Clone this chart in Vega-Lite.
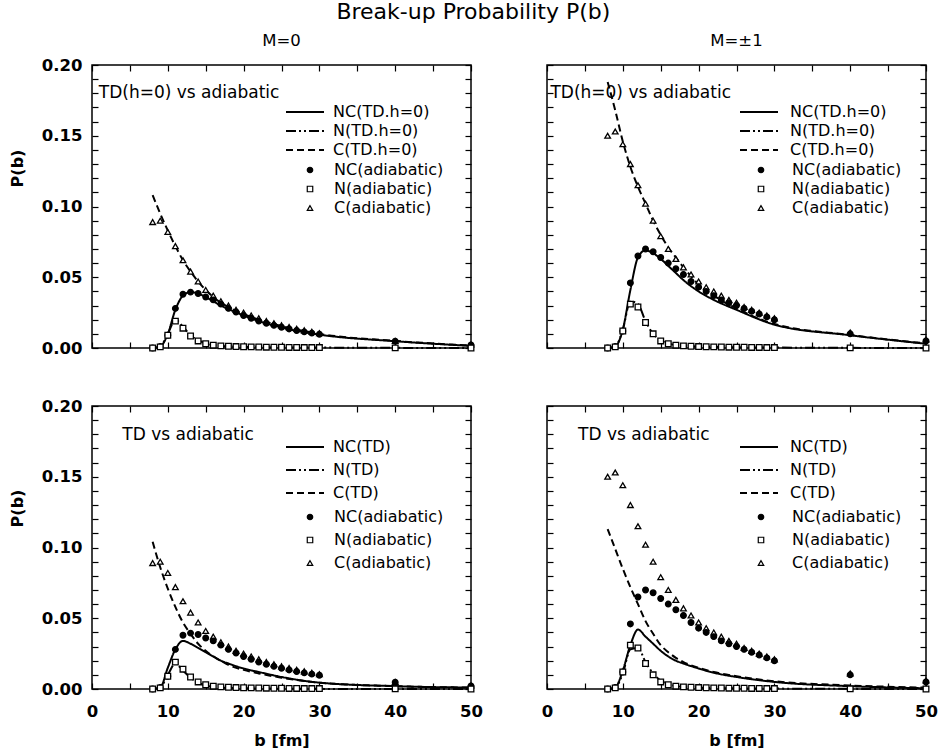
{
"$schema": "https://vega.github.io/schema/vega-lite/v6.json",
"padding": {"left": 8, "top": 0, "right": 0, "bottom": 2},
"title": {"text": "Break-up Probability P(b)", "anchor": "middle", "frame": "bounds", "fontSize": 22, "fontWeight": "normal", "font": "DejaVu Sans", "color": "black", "offset": 8},
"datasets": {
"adi0": [
{"s":"C(adiabatic)","b":8,"P":0.089},{"s":"C(adiabatic)","b":9,"P":0.090},{"s":"C(adiabatic)","b":10,"P":0.082},{"s":"C(adiabatic)","b":11,"P":0.072},{"s":"C(adiabatic)","b":12,"P":0.062},{"s":"C(adiabatic)","b":13,"P":0.054},{"s":"C(adiabatic)","b":14,"P":0.047},{"s":"C(adiabatic)","b":15,"P":0.041},{"s":"C(adiabatic)","b":16,"P":0.037},{"s":"C(adiabatic)","b":17,"P":0.033},{"s":"C(adiabatic)","b":18,"P":0.030},{"s":"C(adiabatic)","b":19,"P":0.027},{"s":"C(adiabatic)","b":20,"P":0.025},{"s":"C(adiabatic)","b":21,"P":0.023},{"s":"C(adiabatic)","b":22,"P":0.021},{"s":"C(adiabatic)","b":23,"P":0.019},{"s":"C(adiabatic)","b":24,"P":0.0175},{"s":"C(adiabatic)","b":25,"P":0.016},{"s":"C(adiabatic)","b":26,"P":0.0148},{"s":"C(adiabatic)","b":27,"P":0.0136},{"s":"C(adiabatic)","b":28,"P":0.0125},{"s":"C(adiabatic)","b":29,"P":0.0115},{"s":"C(adiabatic)","b":30,"P":0.0105},{"s":"C(adiabatic)","b":40,"P":0.005},{"s":"C(adiabatic)","b":50,"P":0.0025},
{"s":"NC(adiabatic)","b":8,"P":0.0},{"s":"NC(adiabatic)","b":9,"P":0.001},{"s":"NC(adiabatic)","b":10,"P":0.009},{"s":"NC(adiabatic)","b":11,"P":0.028},{"s":"NC(adiabatic)","b":12,"P":0.038},{"s":"NC(adiabatic)","b":13,"P":0.0395},{"s":"NC(adiabatic)","b":14,"P":0.0385},{"s":"NC(adiabatic)","b":15,"P":0.036},{"s":"NC(adiabatic)","b":16,"P":0.034},{"s":"NC(adiabatic)","b":17,"P":0.031},{"s":"NC(adiabatic)","b":18,"P":0.028},{"s":"NC(adiabatic)","b":19,"P":0.0255},{"s":"NC(adiabatic)","b":20,"P":0.023},{"s":"NC(adiabatic)","b":21,"P":0.021},{"s":"NC(adiabatic)","b":22,"P":0.019},{"s":"NC(adiabatic)","b":23,"P":0.0175},{"s":"NC(adiabatic)","b":24,"P":0.016},{"s":"NC(adiabatic)","b":25,"P":0.0147},{"s":"NC(adiabatic)","b":26,"P":0.0135},{"s":"NC(adiabatic)","b":27,"P":0.0124},{"s":"NC(adiabatic)","b":28,"P":0.0114},{"s":"NC(adiabatic)","b":29,"P":0.0105},{"s":"NC(adiabatic)","b":30,"P":0.0097},{"s":"NC(adiabatic)","b":40,"P":0.0048},{"s":"NC(adiabatic)","b":50,"P":0.0022},
{"s":"N(adiabatic)","b":8,"P":0},{"s":"N(adiabatic)","b":9,"P":0.0008},{"s":"N(adiabatic)","b":10,"P":0.009},{"s":"N(adiabatic)","b":11,"P":0.019},{"s":"N(adiabatic)","b":12,"P":0.014},{"s":"N(adiabatic)","b":13,"P":0.0085},{"s":"N(adiabatic)","b":14,"P":0.005},{"s":"N(adiabatic)","b":15,"P":0.003},{"s":"N(adiabatic)","b":16,"P":0.002},{"s":"N(adiabatic)","b":17,"P":0.0015},{"s":"N(adiabatic)","b":18,"P":0.0012},{"s":"N(adiabatic)","b":19,"P":0.001},{"s":"N(adiabatic)","b":20,"P":0.0009},{"s":"N(adiabatic)","b":21,"P":0.0008},{"s":"N(adiabatic)","b":22,"P":0.0007},{"s":"N(adiabatic)","b":23,"P":0.0006},{"s":"N(adiabatic)","b":24,"P":0.0005},{"s":"N(adiabatic)","b":25,"P":0.0005},{"s":"N(adiabatic)","b":26,"P":0.0004},{"s":"N(adiabatic)","b":27,"P":0.0004},{"s":"N(adiabatic)","b":28,"P":0.0003},{"s":"N(adiabatic)","b":29,"P":0.0003},{"s":"N(adiabatic)","b":30,"P":0.0003},{"s":"N(adiabatic)","b":40,"P":0.0001},{"s":"N(adiabatic)","b":50,"P":0}
],
"adi1": [
{"s":"C(adiabatic)","b":8,"P":0.150},{"s":"C(adiabatic)","b":9,"P":0.153},{"s":"C(adiabatic)","b":10,"P":0.144},{"s":"C(adiabatic)","b":11,"P":0.130},{"s":"C(adiabatic)","b":12,"P":0.115},{"s":"C(adiabatic)","b":13,"P":0.102},{"s":"C(adiabatic)","b":14,"P":0.090},{"s":"C(adiabatic)","b":15,"P":0.079},{"s":"C(adiabatic)","b":16,"P":0.070},{"s":"C(adiabatic)","b":17,"P":0.063},{"s":"C(adiabatic)","b":18,"P":0.057},{"s":"C(adiabatic)","b":19,"P":0.052},{"s":"C(adiabatic)","b":20,"P":0.047},{"s":"C(adiabatic)","b":21,"P":0.043},{"s":"C(adiabatic)","b":22,"P":0.040},{"s":"C(adiabatic)","b":23,"P":0.037},{"s":"C(adiabatic)","b":24,"P":0.034},{"s":"C(adiabatic)","b":25,"P":0.032},{"s":"C(adiabatic)","b":26,"P":0.029},{"s":"C(adiabatic)","b":27,"P":0.027},{"s":"C(adiabatic)","b":28,"P":0.025},{"s":"C(adiabatic)","b":29,"P":0.023},{"s":"C(adiabatic)","b":30,"P":0.021},{"s":"C(adiabatic)","b":40,"P":0.011},{"s":"C(adiabatic)","b":50,"P":0.006},
{"s":"NC(adiabatic)","b":8,"P":0},{"s":"NC(adiabatic)","b":9,"P":0.001},{"s":"NC(adiabatic)","b":10,"P":0.012},{"s":"NC(adiabatic)","b":11,"P":0.046},{"s":"NC(adiabatic)","b":12,"P":0.065},{"s":"NC(adiabatic)","b":13,"P":0.070},{"s":"NC(adiabatic)","b":14,"P":0.068},{"s":"NC(adiabatic)","b":15,"P":0.064},{"s":"NC(adiabatic)","b":16,"P":0.060},{"s":"NC(adiabatic)","b":17,"P":0.056},{"s":"NC(adiabatic)","b":18,"P":0.052},{"s":"NC(adiabatic)","b":19,"P":0.047},{"s":"NC(adiabatic)","b":20,"P":0.043},{"s":"NC(adiabatic)","b":21,"P":0.040},{"s":"NC(adiabatic)","b":22,"P":0.037},{"s":"NC(adiabatic)","b":23,"P":0.034},{"s":"NC(adiabatic)","b":24,"P":0.032},{"s":"NC(adiabatic)","b":25,"P":0.030},{"s":"NC(adiabatic)","b":26,"P":0.028},{"s":"NC(adiabatic)","b":27,"P":0.026},{"s":"NC(adiabatic)","b":28,"P":0.024},{"s":"NC(adiabatic)","b":29,"P":0.022},{"s":"NC(adiabatic)","b":30,"P":0.020},{"s":"NC(adiabatic)","b":40,"P":0.010},{"s":"NC(adiabatic)","b":50,"P":0.005},
{"s":"N(adiabatic)","b":8,"P":0},{"s":"N(adiabatic)","b":9,"P":0.0008},{"s":"N(adiabatic)","b":10,"P":0.012},{"s":"N(adiabatic)","b":11,"P":0.031},{"s":"N(adiabatic)","b":12,"P":0.029},{"s":"N(adiabatic)","b":13,"P":0.018},{"s":"N(adiabatic)","b":14,"P":0.010},{"s":"N(adiabatic)","b":15,"P":0.005},{"s":"N(adiabatic)","b":16,"P":0.003},{"s":"N(adiabatic)","b":17,"P":0.002},{"s":"N(adiabatic)","b":18,"P":0.0015},{"s":"N(adiabatic)","b":19,"P":0.0012},{"s":"N(adiabatic)","b":20,"P":0.001},{"s":"N(adiabatic)","b":21,"P":0.0009},{"s":"N(adiabatic)","b":22,"P":0.0008},{"s":"N(adiabatic)","b":23,"P":0.0007},{"s":"N(adiabatic)","b":24,"P":0.0006},{"s":"N(adiabatic)","b":25,"P":0.0005},{"s":"N(adiabatic)","b":26,"P":0.0005},{"s":"N(adiabatic)","b":27,"P":0.0004},{"s":"N(adiabatic)","b":28,"P":0.0004},{"s":"N(adiabatic)","b":29,"P":0.0003},{"s":"N(adiabatic)","b":30,"P":0.0003},{"s":"N(adiabatic)","b":40,"P":0.0001},{"s":"N(adiabatic)","b":50,"P":0}
],
"tdTL": [
{"s":"NC(TD.h=0)","b":8,"P":0},{"s":"NC(TD.h=0)","b":9,"P":0.001},{"s":"NC(TD.h=0)","b":10,"P":0.010},{"s":"NC(TD.h=0)","b":11,"P":0.027},{"s":"NC(TD.h=0)","b":12,"P":0.037},{"s":"NC(TD.h=0)","b":13,"P":0.0395},{"s":"NC(TD.h=0)","b":14,"P":0.0385},{"s":"NC(TD.h=0)","b":15,"P":0.036},{"s":"NC(TD.h=0)","b":16,"P":0.033},{"s":"NC(TD.h=0)","b":17,"P":0.030},{"s":"NC(TD.h=0)","b":18,"P":0.0275},{"s":"NC(TD.h=0)","b":20,"P":0.023},{"s":"NC(TD.h=0)","b":22,"P":0.019},{"s":"NC(TD.h=0)","b":25,"P":0.0145},{"s":"NC(TD.h=0)","b":30,"P":0.0095},{"s":"NC(TD.h=0)","b":40,"P":0.0048},{"s":"NC(TD.h=0)","b":50,"P":0.0015},
{"s":"N(TD.h=0)","b":8,"P":0},{"s":"N(TD.h=0)","b":9,"P":0.001},{"s":"N(TD.h=0)","b":10,"P":0.010},{"s":"N(TD.h=0)","b":11,"P":0.020},{"s":"N(TD.h=0)","b":12,"P":0.015},{"s":"N(TD.h=0)","b":13,"P":0.009},{"s":"N(TD.h=0)","b":14,"P":0.0055},{"s":"N(TD.h=0)","b":15,"P":0.0033},{"s":"N(TD.h=0)","b":16,"P":0.002},{"s":"N(TD.h=0)","b":17,"P":0.0015},{"s":"N(TD.h=0)","b":18,"P":0.0011},{"s":"N(TD.h=0)","b":20,"P":0.0008},{"s":"N(TD.h=0)","b":22,"P":0.0006},{"s":"N(TD.h=0)","b":25,"P":0.0004},{"s":"N(TD.h=0)","b":30,"P":0.0003},{"s":"N(TD.h=0)","b":40,"P":0.0001},{"s":"N(TD.h=0)","b":50,"P":0},
{"s":"C(TD.h=0)","b":8,"P":0.108},{"s":"C(TD.h=0)","b":9,"P":0.095},{"s":"C(TD.h=0)","b":10,"P":0.083},{"s":"C(TD.h=0)","b":11,"P":0.072},{"s":"C(TD.h=0)","b":12,"P":0.062},{"s":"C(TD.h=0)","b":13,"P":0.054},{"s":"C(TD.h=0)","b":14,"P":0.047},{"s":"C(TD.h=0)","b":15,"P":0.041},{"s":"C(TD.h=0)","b":16,"P":0.036},{"s":"C(TD.h=0)","b":17,"P":0.032},{"s":"C(TD.h=0)","b":18,"P":0.029},{"s":"C(TD.h=0)","b":20,"P":0.024},{"s":"C(TD.h=0)","b":22,"P":0.020},{"s":"C(TD.h=0)","b":25,"P":0.0155},{"s":"C(TD.h=0)","b":30,"P":0.010},{"s":"C(TD.h=0)","b":40,"P":0.005},{"s":"C(TD.h=0)","b":50,"P":0.0017}
],
"tdTR": [
{"s":"NC(TD.h=0)","b":8,"P":0},{"s":"NC(TD.h=0)","b":9,"P":0.001},{"s":"NC(TD.h=0)","b":10,"P":0.013},{"s":"NC(TD.h=0)","b":11,"P":0.041},{"s":"NC(TD.h=0)","b":12,"P":0.064},{"s":"NC(TD.h=0)","b":13,"P":0.069},{"s":"NC(TD.h=0)","b":14,"P":0.067},{"s":"NC(TD.h=0)","b":15,"P":0.063},{"s":"NC(TD.h=0)","b":16,"P":0.058},{"s":"NC(TD.h=0)","b":17,"P":0.053},{"s":"NC(TD.h=0)","b":18,"P":0.048},{"s":"NC(TD.h=0)","b":20,"P":0.040},{"s":"NC(TD.h=0)","b":22,"P":0.034},{"s":"NC(TD.h=0)","b":25,"P":0.027},{"s":"NC(TD.h=0)","b":30,"P":0.0165},{"s":"NC(TD.h=0)","b":40,"P":0.009},{"s":"NC(TD.h=0)","b":50,"P":0.003},
{"s":"N(TD.h=0)","b":8,"P":0},{"s":"N(TD.h=0)","b":9,"P":0.001},{"s":"N(TD.h=0)","b":10,"P":0.013},{"s":"N(TD.h=0)","b":11,"P":0.033},{"s":"N(TD.h=0)","b":12,"P":0.031},{"s":"N(TD.h=0)","b":13,"P":0.019},{"s":"N(TD.h=0)","b":14,"P":0.010},{"s":"N(TD.h=0)","b":15,"P":0.0055},{"s":"N(TD.h=0)","b":16,"P":0.0033},{"s":"N(TD.h=0)","b":17,"P":0.002},{"s":"N(TD.h=0)","b":18,"P":0.0015},{"s":"N(TD.h=0)","b":20,"P":0.001},{"s":"N(TD.h=0)","b":22,"P":0.0008},{"s":"N(TD.h=0)","b":25,"P":0.0005},{"s":"N(TD.h=0)","b":30,"P":0.0003},{"s":"N(TD.h=0)","b":40,"P":0.0001},{"s":"N(TD.h=0)","b":50,"P":0},
{"s":"C(TD.h=0)","b":8,"P":0.188},{"s":"C(TD.h=0)","b":9,"P":0.168},{"s":"C(TD.h=0)","b":10,"P":0.146},{"s":"C(TD.h=0)","b":11,"P":0.128},{"s":"C(TD.h=0)","b":12,"P":0.114},{"s":"C(TD.h=0)","b":13,"P":0.102},{"s":"C(TD.h=0)","b":14,"P":0.090},{"s":"C(TD.h=0)","b":15,"P":0.080},{"s":"C(TD.h=0)","b":16,"P":0.071},{"s":"C(TD.h=0)","b":17,"P":0.064},{"s":"C(TD.h=0)","b":18,"P":0.057},{"s":"C(TD.h=0)","b":20,"P":0.045},{"s":"C(TD.h=0)","b":22,"P":0.037},{"s":"C(TD.h=0)","b":25,"P":0.028},{"s":"C(TD.h=0)","b":30,"P":0.017},{"s":"C(TD.h=0)","b":40,"P":0.0092},{"s":"C(TD.h=0)","b":50,"P":0.0032}
],
"tdBL": [
{"s":"NC(TD)","b":8,"P":0},{"s":"NC(TD)","b":9,"P":0.001},{"s":"NC(TD)","b":10,"P":0.015},{"s":"NC(TD)","b":11,"P":0.028},{"s":"NC(TD)","b":12,"P":0.034},{"s":"NC(TD)","b":13,"P":0.032},{"s":"NC(TD)","b":14,"P":0.029},{"s":"NC(TD)","b":15,"P":0.026},{"s":"NC(TD)","b":16,"P":0.023},{"s":"NC(TD)","b":17,"P":0.020},{"s":"NC(TD)","b":18,"P":0.018},{"s":"NC(TD)","b":20,"P":0.0145},{"s":"NC(TD)","b":22,"P":0.012},{"s":"NC(TD)","b":25,"P":0.0085},{"s":"NC(TD)","b":30,"P":0.0045},{"s":"NC(TD)","b":40,"P":0.002},{"s":"NC(TD)","b":50,"P":0.001},
{"s":"N(TD)","b":8,"P":0},{"s":"N(TD)","b":9,"P":0.001},{"s":"N(TD)","b":10,"P":0.010},{"s":"N(TD)","b":11,"P":0.018},{"s":"N(TD)","b":12,"P":0.013},{"s":"N(TD)","b":13,"P":0.008},{"s":"N(TD)","b":14,"P":0.0045},{"s":"N(TD)","b":15,"P":0.0025},{"s":"N(TD)","b":16,"P":0.0015},{"s":"N(TD)","b":17,"P":0.001},{"s":"N(TD)","b":18,"P":0.0008},{"s":"N(TD)","b":20,"P":0.0005},{"s":"N(TD)","b":22,"P":0.0004},{"s":"N(TD)","b":25,"P":0.0002},{"s":"N(TD)","b":30,"P":0.0001},{"s":"N(TD)","b":40,"P":0},{"s":"N(TD)","b":50,"P":0},
{"s":"C(TD)","b":8,"P":0.104},{"s":"C(TD)","b":9,"P":0.086},{"s":"C(TD)","b":10,"P":0.071},{"s":"C(TD)","b":11,"P":0.058},{"s":"C(TD)","b":12,"P":0.047},{"s":"C(TD)","b":13,"P":0.039},{"s":"C(TD)","b":14,"P":0.032},{"s":"C(TD)","b":15,"P":0.027},{"s":"C(TD)","b":16,"P":0.023},{"s":"C(TD)","b":17,"P":0.020},{"s":"C(TD)","b":18,"P":0.017},{"s":"C(TD)","b":20,"P":0.0135},{"s":"C(TD)","b":22,"P":0.011},{"s":"C(TD)","b":25,"P":0.008},{"s":"C(TD)","b":30,"P":0.0045},{"s":"C(TD)","b":40,"P":0.002},{"s":"C(TD)","b":50,"P":0.001}
],
"tdBR": [
{"s":"NC(TD)","b":8,"P":0},{"s":"NC(TD)","b":9,"P":0.001},{"s":"NC(TD)","b":10,"P":0.013},{"s":"NC(TD)","b":11,"P":0.031},{"s":"NC(TD)","b":12,"P":0.042},{"s":"NC(TD)","b":13,"P":0.037},{"s":"NC(TD)","b":14,"P":0.032},{"s":"NC(TD)","b":15,"P":0.027},{"s":"NC(TD)","b":16,"P":0.023},{"s":"NC(TD)","b":17,"P":0.020},{"s":"NC(TD)","b":18,"P":0.018},{"s":"NC(TD)","b":20,"P":0.0145},{"s":"NC(TD)","b":22,"P":0.0115},{"s":"NC(TD)","b":25,"P":0.0085},{"s":"NC(TD)","b":30,"P":0.005},{"s":"NC(TD)","b":40,"P":0.002},{"s":"NC(TD)","b":50,"P":0.0005},
{"s":"N(TD)","b":8,"P":0},{"s":"N(TD)","b":9,"P":0.001},{"s":"N(TD)","b":10,"P":0.011},{"s":"N(TD)","b":11,"P":0.028},{"s":"N(TD)","b":12,"P":0.029},{"s":"N(TD)","b":13,"P":0.019},{"s":"N(TD)","b":14,"P":0.011},{"s":"N(TD)","b":15,"P":0.006},{"s":"N(TD)","b":16,"P":0.0035},{"s":"N(TD)","b":17,"P":0.0022},{"s":"N(TD)","b":18,"P":0.0015},{"s":"N(TD)","b":20,"P":0.001},{"s":"N(TD)","b":22,"P":0.0007},{"s":"N(TD)","b":25,"P":0.0005},{"s":"N(TD)","b":30,"P":0.0003},{"s":"N(TD)","b":40,"P":0.0001},{"s":"N(TD)","b":50,"P":0},
{"s":"C(TD)","b":8,"P":0.113},{"s":"C(TD)","b":9,"P":0.099},{"s":"C(TD)","b":10,"P":0.085},{"s":"C(TD)","b":11,"P":0.072},{"s":"C(TD)","b":12,"P":0.060},{"s":"C(TD)","b":13,"P":0.048},{"s":"C(TD)","b":14,"P":0.039},{"s":"C(TD)","b":15,"P":0.031},{"s":"C(TD)","b":16,"P":0.026},{"s":"C(TD)","b":17,"P":0.022},{"s":"C(TD)","b":18,"P":0.019},{"s":"C(TD)","b":20,"P":0.015},{"s":"C(TD)","b":22,"P":0.012},{"s":"C(TD)","b":25,"P":0.009},{"s":"C(TD)","b":30,"P":0.0055},{"s":"C(TD)","b":40,"P":0.0025},{"s":"C(TD)","b":50,"P":0.001}
]
},
"config": {
"view": {"stroke": "black", "strokeWidth": 1.5},
"font": "DejaVu Sans",
"axis": {"domain": false, "grid": false, "minExtent": 0, "tickSize": -6, "tickColor": "black", "tickWidth": 1.2, "labelFont": "DejaVu Sans", "labelFontWeight": "bold", "labelFontSize": 16.5, "labelColor": "black", "labelFlush": false, "labelOverlap": false, "titleFont": "DejaVu Sans", "titleFontWeight": "bold", "titleFontSize": 16, "titleColor": "black"},
"axisLeft": {"labelPadding": 16, "titlePadding": 16},
"axisBottom": {"labelPadding": 20, "titlePadding": 13},
"legend": {"labelFont": "DejaVu Sans", "labelFontSize": 16, "labelColor": "black", "padding": 0},
"title": {"font": "DejaVu Sans", "fontSize": 16.5, "fontWeight": "normal", "color": "black", "anchor": "middle", "offset": 15}
},
"columns": 2,
"spacing": {"row": 58, "column": 76},
"bounds": "flush",
"resolve": {"scale": {"strokeDash": "independent", "shape": "independent", "fill": "independent", "stroke": "independent"}, "legend": {"strokeDash": "independent", "shape": "independent", "fill": "independent", "stroke": "independent"}},
"concat": [
 {"width": 379, "height": 283, "title": {"text": "M=0", "frame": "group", "anchor": "middle", "offset": 8},
  "layer": [
   {"data": {"name": "tdTL"},
    "mark": {"type": "line", "color": "black", "strokeWidth": 2, "interpolate": "monotone"},
    "encoding": {
     "x": {"field": "b", "type": "quantitative", "scale": {"domain": [0, 50], "nice": false}, "axis": {"orient": "bottom", "values": [0,5,10,15,20,25,30,35,40,45,50], "labels": false, "labelPadding": 0, "title": null}},
     "y": {"field": "P", "type": "quantitative", "scale": {"domain": [0, 0.2], "nice": false}, "axis": {"orient": "left", "values": [0,0.01,0.02,0.03,0.04,0.05,0.06,0.07,0.08,0.09,0.1,0.11,0.12,0.13,0.14,0.15,0.16,0.17,0.18,0.19,0.2], "labelExpr": "round(datum.value * 100) % 5 === 0 ? format(datum.value, '.2f') : ''", "title": "P(b)", "titleY": 103}},
     "strokeDash": {"field": "s", "type": "nominal", "scale": {"domain": ["NC(TD.h=0)", "N(TD.h=0)", "C(TD.h=0)"], "range": [[1, 0], [10, 3, 2, 3, 2, 3], [7, 4]]}, "legend": {"title": null, "orient": "none", "legendX": 205, "legendY": 39, "symbolType": "M-4.75,0H4.75", "symbolSize": 64, "symbolStrokeColor": "black", "symbolStrokeWidth": 2, "labelOffset": 20, "rowPadding": 3}}
    }},
   {"data": {"name": "adi0"},
    "mark": {"type": "point", "filled": true, "strokeWidth": 1.3, "opacity": 1, "size": 32},
    "encoding": {
     "x": {"field": "b", "type": "quantitative", "axis": null},
     "y": {"field": "P", "type": "quantitative", "axis": null},
     "shape": {"field": "s", "type": "nominal", "scale": {"domain": ["NC(adiabatic)", "N(adiabatic)", "C(adiabatic)"], "range": ["circle", "square", "triangle-up"]}, "legend": {"title": null, "orient": "none", "legendX": 210, "legendY": 97, "symbolSize": 30, "symbolStrokeWidth": 1.2, "labelOffset": 16, "rowPadding": 3}},
     "fill": {"field": "s", "type": "nominal", "scale": {"domain": ["NC(adiabatic)", "N(adiabatic)", "C(adiabatic)"], "range": ["black", "white", "white"]}, "legend": {"title": null, "orient": "none", "legendX": 210, "legendY": 97, "symbolSize": 30, "symbolStrokeWidth": 1.2, "labelOffset": 16, "rowPadding": 3}},
     "stroke": {"field": "s", "type": "nominal", "scale": {"domain": ["NC(adiabatic)", "N(adiabatic)", "C(adiabatic)"], "range": ["black", "black", "black"]}, "legend": {"title": null, "orient": "none", "legendX": 210, "legendY": 97, "symbolSize": 30, "symbolStrokeWidth": 1.2, "labelOffset": 16, "rowPadding": 3}}
    }},
   {"data": {"values": [{}]},
    "mark": {"type": "text", "text": "TD(h=0) vs adiabatic", "align": "left", "baseline": "middle", "font": "DejaVu Sans", "fontSize": 17, "color": "black"},
    "encoding": {
     "x": {"datum": 0.9, "type": "quantitative", "axis": {"orient": "top", "values": [0,5,10,15,20,25,30,35,40,45,50], "labels": false, "labelPadding": 0, "title": null}},
     "y": {"datum": 0.18, "type": "quantitative", "axis": {"orient": "right", "values": [0,0.01,0.02,0.03,0.04,0.05,0.06,0.07,0.08,0.09,0.1,0.11,0.12,0.13,0.14,0.15,0.16,0.17,0.18,0.19,0.2], "labels": false, "labelPadding": 0, "title": null}}
    }}
  ],
  "resolve": {"axis": {"x": "independent", "y": "independent"}}
 },
 {"width": 379, "height": 283, "title": {"text": "M=±1", "frame": "group", "anchor": "middle", "offset": 15},
  "layer": [
   {"data": {"name": "tdTR"},
    "mark": {"type": "line", "color": "black", "strokeWidth": 2, "interpolate": "monotone"},
    "encoding": {
     "x": {"field": "b", "type": "quantitative", "scale": {"domain": [0, 50], "nice": false}, "axis": {"orient": "bottom", "values": [0,5,10,15,20,25,30,35,40,45,50], "labels": false, "labelPadding": 0, "title": null}},
     "y": {"field": "P", "type": "quantitative", "scale": {"domain": [0, 0.2], "nice": false}, "axis": {"orient": "left", "values": [0,0.01,0.02,0.03,0.04,0.05,0.06,0.07,0.08,0.09,0.1,0.11,0.12,0.13,0.14,0.15,0.16,0.17,0.18,0.19,0.2], "labels": false, "labelPadding": 0, "title": null}},
     "strokeDash": {"field": "s", "type": "nominal", "scale": {"domain": ["NC(TD.h=0)", "N(TD.h=0)", "C(TD.h=0)"], "range": [[1, 0], [10, 3, 2, 3, 2, 3], [7, 4]]}, "legend": {"title": null, "orient": "none", "legendX": 204, "legendY": 39, "symbolType": "M-4.75,0H4.75", "symbolSize": 64, "symbolStrokeColor": "black", "symbolStrokeWidth": 2, "labelOffset": 23, "rowPadding": 3}}
    }},
   {"data": {"name": "adi1"},
    "mark": {"type": "point", "filled": true, "strokeWidth": 1.3, "opacity": 1, "size": 32},
    "encoding": {
     "x": {"field": "b", "type": "quantitative", "axis": null},
     "y": {"field": "P", "type": "quantitative", "axis": null},
     "shape": {"field": "s", "type": "nominal", "scale": {"domain": ["NC(adiabatic)", "N(adiabatic)", "C(adiabatic)"], "range": ["circle", "square", "triangle-up"]}, "legend": {"title": null, "orient": "none", "legendX": 206, "legendY": 97, "symbolSize": 30, "symbolStrokeWidth": 1.2, "labelOffset": 23, "rowPadding": 3}},
     "fill": {"field": "s", "type": "nominal", "scale": {"domain": ["NC(adiabatic)", "N(adiabatic)", "C(adiabatic)"], "range": ["black", "white", "white"]}, "legend": {"title": null, "orient": "none", "legendX": 206, "legendY": 97, "symbolSize": 30, "symbolStrokeWidth": 1.2, "labelOffset": 23, "rowPadding": 3}},
     "stroke": {"field": "s", "type": "nominal", "scale": {"domain": ["NC(adiabatic)", "N(adiabatic)", "C(adiabatic)"], "range": ["black", "black", "black"]}, "legend": {"title": null, "orient": "none", "legendX": 206, "legendY": 97, "symbolSize": 30, "symbolStrokeWidth": 1.2, "labelOffset": 23, "rowPadding": 3}}
    }},
   {"data": {"values": [{}]},
    "mark": {"type": "text", "text": "TD(h=0) vs adiabatic", "align": "left", "baseline": "middle", "font": "DejaVu Sans", "fontSize": 17, "color": "black"},
    "encoding": {
     "x": {"datum": 0.45, "type": "quantitative", "axis": {"orient": "top", "values": [0,5,10,15,20,25,30,35,40,45,50], "labels": false, "labelPadding": 0, "title": null}},
     "y": {"datum": 0.18, "type": "quantitative", "axis": {"orient": "right", "values": [0,0.01,0.02,0.03,0.04,0.05,0.06,0.07,0.08,0.09,0.1,0.11,0.12,0.13,0.14,0.15,0.16,0.17,0.18,0.19,0.2], "labels": false, "labelPadding": 0, "title": null}}
    }}
  ],
  "resolve": {"axis": {"x": "independent", "y": "independent"}}
 },
 {"width": 379, "height": 283,
  "layer": [
   {"data": {"name": "tdBL"},
    "mark": {"type": "line", "color": "black", "strokeWidth": 2, "interpolate": "monotone"},
    "encoding": {
     "x": {"field": "b", "type": "quantitative", "scale": {"domain": [0, 50], "nice": false}, "axis": {"orient": "bottom", "values": [0,5,10,15,20,25,30,35,40,45,50], "labelExpr": "datum.value % 10 === 0 ? datum.label : ''", "title": "b [fm]"}},
     "y": {"field": "P", "type": "quantitative", "scale": {"domain": [0, 0.2], "nice": false}, "axis": {"orient": "left", "values": [0,0.01,0.02,0.03,0.04,0.05,0.06,0.07,0.08,0.09,0.1,0.11,0.12,0.13,0.14,0.15,0.16,0.17,0.18,0.19,0.2], "labelExpr": "round(datum.value * 100) % 5 === 0 ? format(datum.value, '.2f') : ''", "title": "P(b)", "titleY": 102}},
     "strokeDash": {"field": "s", "type": "nominal", "scale": {"domain": ["NC(TD)", "N(TD)", "C(TD)"], "range": [[1, 0], [10, 3, 2, 3, 2, 3], [7, 4]]}, "legend": {"title": null, "orient": "none", "legendX": 205, "legendY": 33, "symbolType": "M-4.75,0H4.75", "symbolSize": 64, "symbolStrokeColor": "black", "symbolStrokeWidth": 2, "labelOffset": 20, "rowPadding": 7}}
    }},
   {"data": {"name": "adi0"},
    "mark": {"type": "point", "filled": true, "strokeWidth": 1.3, "opacity": 1, "size": 32},
    "encoding": {
     "x": {"field": "b", "type": "quantitative", "axis": null},
     "y": {"field": "P", "type": "quantitative", "axis": null},
     "shape": {"field": "s", "type": "nominal", "scale": {"domain": ["NC(adiabatic)", "N(adiabatic)", "C(adiabatic)"], "range": ["circle", "square", "triangle-up"]}, "legend": {"title": null, "orient": "none", "legendX": 210, "legendY": 103, "symbolSize": 30, "symbolStrokeWidth": 1.2, "labelOffset": 16, "rowPadding": 7}},
     "fill": {"field": "s", "type": "nominal", "scale": {"domain": ["NC(adiabatic)", "N(adiabatic)", "C(adiabatic)"], "range": ["black", "white", "white"]}, "legend": {"title": null, "orient": "none", "legendX": 210, "legendY": 103, "symbolSize": 30, "symbolStrokeWidth": 1.2, "labelOffset": 16, "rowPadding": 7}},
     "stroke": {"field": "s", "type": "nominal", "scale": {"domain": ["NC(adiabatic)", "N(adiabatic)", "C(adiabatic)"], "range": ["black", "black", "black"]}, "legend": {"title": null, "orient": "none", "legendX": 210, "legendY": 103, "symbolSize": 30, "symbolStrokeWidth": 1.2, "labelOffset": 16, "rowPadding": 7}}
    }},
   {"data": {"values": [{}]},
    "mark": {"type": "text", "text": "TD vs adiabatic", "align": "left", "baseline": "middle", "font": "DejaVu Sans", "fontSize": 17, "color": "black"},
    "encoding": {
     "x": {"datum": 4.0, "type": "quantitative", "axis": {"orient": "top", "values": [0,5,10,15,20,25,30,35,40,45,50], "labels": false, "labelPadding": 0, "title": null}},
     "y": {"datum": 0.1795, "type": "quantitative", "axis": {"orient": "right", "values": [0,0.01,0.02,0.03,0.04,0.05,0.06,0.07,0.08,0.09,0.1,0.11,0.12,0.13,0.14,0.15,0.16,0.17,0.18,0.19,0.2], "labels": false, "labelPadding": 0, "title": null}}
    }}
  ],
  "resolve": {"axis": {"x": "independent", "y": "independent"}}
 },
 {"width": 379, "height": 283,
  "layer": [
   {"data": {"name": "tdBR"},
    "mark": {"type": "line", "color": "black", "strokeWidth": 2, "interpolate": "monotone"},
    "encoding": {
     "x": {"field": "b", "type": "quantitative", "scale": {"domain": [0, 50], "nice": false}, "axis": {"orient": "bottom", "values": [0,5,10,15,20,25,30,35,40,45,50], "labelExpr": "datum.value % 10 === 0 ? datum.label : ''", "title": "b [fm]"}},
     "y": {"field": "P", "type": "quantitative", "scale": {"domain": [0, 0.2], "nice": false}, "axis": {"orient": "left", "values": [0,0.01,0.02,0.03,0.04,0.05,0.06,0.07,0.08,0.09,0.1,0.11,0.12,0.13,0.14,0.15,0.16,0.17,0.18,0.19,0.2], "labels": false, "labelPadding": 0, "title": null}},
     "strokeDash": {"field": "s", "type": "nominal", "scale": {"domain": ["NC(TD)", "N(TD)", "C(TD)"], "range": [[1, 0], [10, 3, 2, 3, 2, 3], [7, 4]]}, "legend": {"title": null, "orient": "none", "legendX": 204, "legendY": 33, "symbolType": "M-4.75,0H4.75", "symbolSize": 64, "symbolStrokeColor": "black", "symbolStrokeWidth": 2, "labelOffset": 23, "rowPadding": 7}}
    }},
   {"data": {"name": "adi1"},
    "mark": {"type": "point", "filled": true, "strokeWidth": 1.3, "opacity": 1, "size": 32},
    "encoding": {
     "x": {"field": "b", "type": "quantitative", "axis": null},
     "y": {"field": "P", "type": "quantitative", "axis": null},
     "shape": {"field": "s", "type": "nominal", "scale": {"domain": ["NC(adiabatic)", "N(adiabatic)", "C(adiabatic)"], "range": ["circle", "square", "triangle-up"]}, "legend": {"title": null, "orient": "none", "legendX": 206, "legendY": 103, "symbolSize": 30, "symbolStrokeWidth": 1.2, "labelOffset": 23, "rowPadding": 7}},
     "fill": {"field": "s", "type": "nominal", "scale": {"domain": ["NC(adiabatic)", "N(adiabatic)", "C(adiabatic)"], "range": ["black", "white", "white"]}, "legend": {"title": null, "orient": "none", "legendX": 206, "legendY": 103, "symbolSize": 30, "symbolStrokeWidth": 1.2, "labelOffset": 23, "rowPadding": 7}},
     "stroke": {"field": "s", "type": "nominal", "scale": {"domain": ["NC(adiabatic)", "N(adiabatic)", "C(adiabatic)"], "range": ["black", "black", "black"]}, "legend": {"title": null, "orient": "none", "legendX": 206, "legendY": 103, "symbolSize": 30, "symbolStrokeWidth": 1.2, "labelOffset": 23, "rowPadding": 7}}
    }},
   {"data": {"values": [{}]},
    "mark": {"type": "text", "text": "TD vs adiabatic", "align": "left", "baseline": "middle", "font": "DejaVu Sans", "fontSize": 17, "color": "black"},
    "encoding": {
     "x": {"datum": 4.1, "type": "quantitative", "axis": {"orient": "top", "values": [0,5,10,15,20,25,30,35,40,45,50], "labels": false, "labelPadding": 0, "title": null}},
     "y": {"datum": 0.1795, "type": "quantitative", "axis": {"orient": "right", "values": [0,0.01,0.02,0.03,0.04,0.05,0.06,0.07,0.08,0.09,0.1,0.11,0.12,0.13,0.14,0.15,0.16,0.17,0.18,0.19,0.2], "labels": false, "labelPadding": 0, "title": null}}
    }}
  ],
  "resolve": {"axis": {"x": "independent", "y": "independent"}}
 }
]
}
